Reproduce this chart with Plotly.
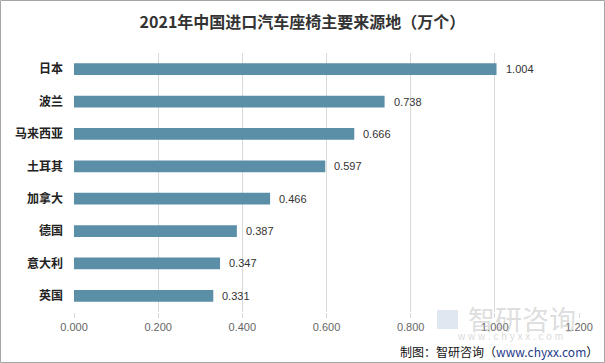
import plotly.graph_objects as go

categories = ["日本", "波兰", "马来西亚", "土耳其", "加拿大", "德国", "意大利", "英国"]
values = [1.004, 0.738, 0.666, 0.597, 0.466, 0.387, 0.347, 0.331]
tick_vals = [0, 0.2, 0.4, 0.6, 0.8, 1.0, 1.2]
tick_text = ["0.000", "0.200", "0.400", "0.600", "0.800", "1.000", "1.200"]

W, H = 605, 363
L, R, T, B = 74, 26, 53, 51
pw, ph = W - L - R, H - T - B

fig = go.Figure()
fig.add_trace(go.Bar(
    x=values, y=categories, orientation="h",
    marker=dict(color="#5b8fa7", line=dict(width=0)),
    width=0.36, hoverinfo="skip",
))

for c, v in zip(categories, values):
    fig.add_annotation(x=v, y=c, text=f"{v:.3f}", showarrow=False,
                       xanchor="left", xshift=7,
                       font=dict(size=11, color="#333333", family="Liberation Sans, Arial"))

# border
fig.add_shape(type="rect", xref="paper", yref="paper",
              x0=-L / pw + 0.5 / pw, x1=1 + (R - 0.5) / pw,
              y0=-(B - 0.5) / ph, y1=1 + (T - 0.5) / ph,
              line=dict(color="#a6a6a6", width=1), layer="above")

# watermark
fig.add_annotation(xref="paper", yref="paper", x=(522 - L) / pw, y=1 - (318 - T) / ph,
                   text="智研咨询", showarrow=False, xanchor="center", yanchor="middle",
                   font=dict(size=27, color="rgba(180,180,180,0.45)", family="Noto Sans CJK SC"))
fig.add_annotation(xref="paper", yref="paper", x=(510 - L) / pw, y=1 - (336 - T) / ph,
                   text="w w w . c h y x x . c o m", showarrow=False, xanchor="center", yanchor="middle",
                   font=dict(size=10, color="rgba(180,180,180,0.5)", family="Liberation Sans"))
fig.add_shape(type="rect", xref="paper", yref="paper",
              x0=(437 - L) / pw, x1=(458 - L) / pw, y0=1 - (329 - T) / ph, y1=1 - (310 - T) / ph,
              line=dict(width=0), fillcolor="rgba(150,180,210,0.3)", layer="below")

# source
fig.add_annotation(xref="paper", yref="paper", x=(600 - L) / pw, y=1 - (351 - T) / ph,
                   text="制图：智研咨询（<span style='color:#1f3b8c'>www.chyxx.com</span>）",
                   showarrow=False, xanchor="right", yanchor="middle",
                   font=dict(size=12, color="#111111", family="Noto Sans CJK SC"))

fig.update_layout(
    width=W, height=H,
    margin=dict(l=L, r=R, t=T, b=B),
    paper_bgcolor="white", plot_bgcolor="white",
    showlegend=False,
    title=dict(text="<b>2021年中国进口汽车座椅主要来源地（万个）</b>",
               x=0.5, xanchor="center", y=1 - 22 / H, yanchor="middle",
               font=dict(size=16, color="#333333", family="Noto Sans CJK SC")),
    xaxis=dict(range=[0, 1.2], tickvals=tick_vals, ticktext=tick_text,
               showgrid=True, gridcolor="#d9d9d9", gridwidth=1,
               zeroline=False, showline=False,
               ticks="outside", ticklen=5, tickcolor="#d9d9d9",
               tickfont=dict(size=11, color="#666666", family="Liberation Sans, Arial")),
    yaxis=dict(autorange="reversed", showgrid=False, zeroline=False, showline=False,
               ticks="", ticklabelstandoff=10,
               tickfont=dict(size=12, color="#222222", family="Noto Sans CJK SC")),
)
fig.update_yaxes(tickprefix="<b>", ticksuffix="</b>")

fig.write_html("out.html", config={"displayModeBar": False},
               post_script="document.body.style.margin='0';document.body.style.overflow='hidden';")
